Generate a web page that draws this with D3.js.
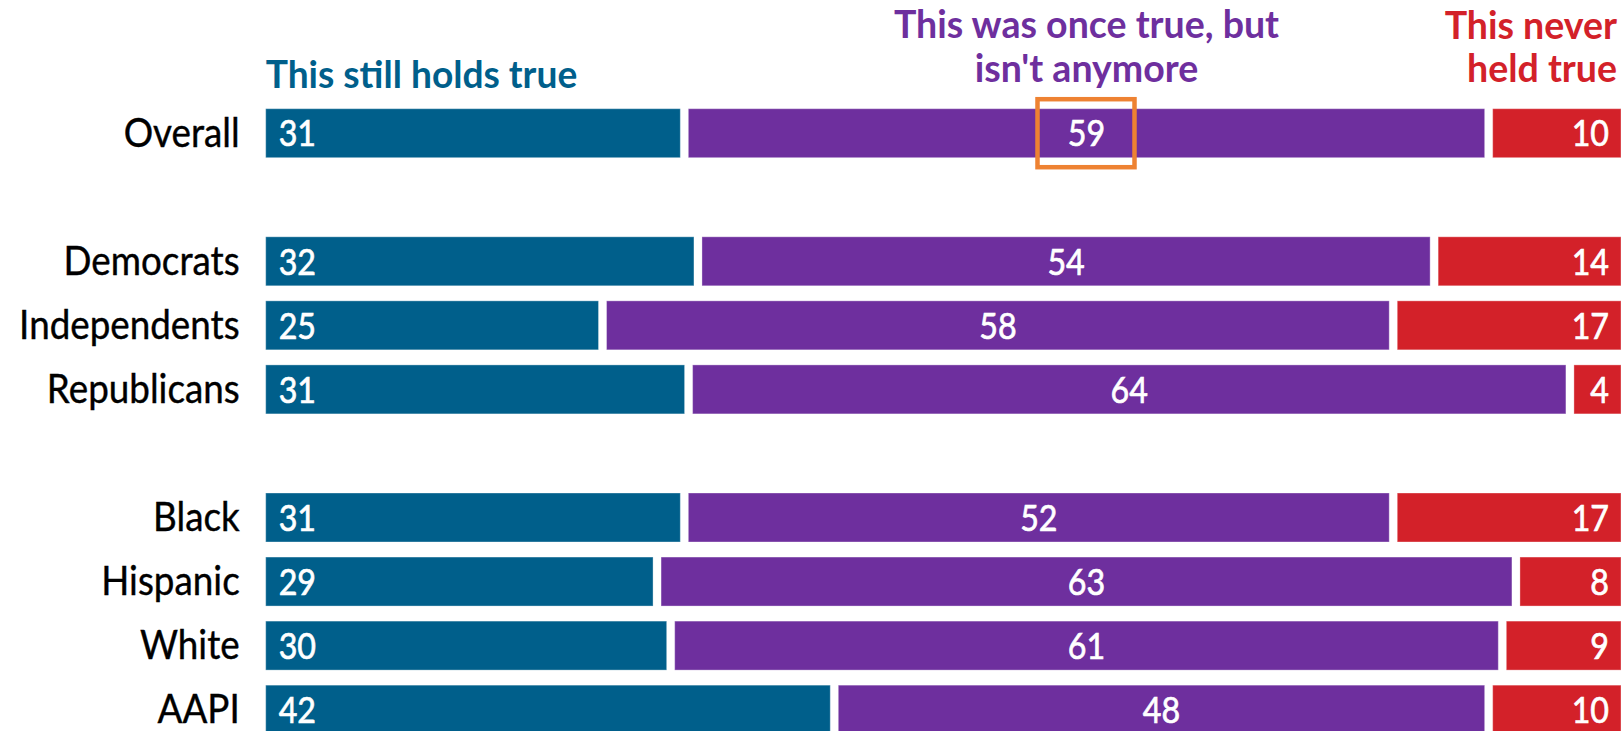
<!DOCTYPE html>
<html>
<head>
<meta charset="utf-8">
<script src="https://cdn.jsdelivr.net/npm/d3@7"></script>
<style>
  html, body { margin: 0; padding: 0; background: #ffffff; }
  svg { display: block; }
  text { font-family: Lato, "Open Sans", "Liberation Sans", sans-serif; }
</style>
</head>
<body>
<svg id="chart" width="1622" height="731"></svg>
<script>
// ---- Data ----
const categories = ["Overall", "Democrats", "Independents", "Republicans", "Black", "Hispanic", "White", "AAPI"];
const stillHoldsTrue = [31, 32, 25, 31, 31, 29, 30, 42];
const onceTrueNotAnymore = [59, 54, 58, 64, 52, 63, 61, 48];
const neverHeldTrue = [10, 14, 17, 4, 17, 8, 9, 10];
const seriesKeys = ["still", "once", "never"];
const seriesHeaders = [["This still holds true"], ["This was once true, but", "isn't anymore"], ["This never", "held true"]];
const rowOrder = ["Overall", "_gap1", "Democrats", "Independents", "Republicans", "_gap2", "Black", "Hispanic", "White", "AAPI"];
const highlighted = { category: "Overall", series: "once" };

// ---- Styles ----
const colors = { still: "#005f8b", once: "#6e2f9e", never: "#d32129" };
const highlightColor = "#ee8232";
const leftX = 265.7, rightX = 1621;
const gap = 8;

const table = categories.map((c, i) => ({
  category: c, still: stillHoldsTrue[i], once: onceTrueNotAnymore[i], never: neverHeldTrue[i]
}));

const stacked = d3.stack().keys(seriesKeys).offset(d3.stackOffsetExpand)(table);

const svg = d3.select("#chart");

const x = d3.scaleLinear().domain([0, 1]).range([leftX, rightX + gap]);
const step = 64.05, bw = 49, topY = 108.7;
const pInner = (step - bw) / step;
const y = d3.scaleBand().domain(rowOrder)
  .range([topY, topY + step * (rowOrder.length - pInner)])
  .paddingInner(pInner).paddingOuter(0);

function squeeze(sel, sx) {
  sel.attr("transform", function() {
    const t = d3.select(this);
    return `translate(${t.attr("data-x")},${t.attr("data-y")}) scale(${sx},1)`;
  });
}

// Bars
const layers = svg.append("g").selectAll("g").data(stacked).join("g")
  .attr("fill", d => colors[d.key]);

layers.selectAll("rect").data(d => d.map(s => ({ key: d.key, s, cat: s.data.category })))
  .join("rect")
  .attr("x", d => x(d.s[0]))
  .attr("y", d => y(d.cat))
  .attr("width", d => x(d.s[1]) - x(d.s[0]) - gap)
  .attr("height", y.bandwidth())
  .attr("stroke", "#ffffff").attr("stroke-opacity", 0.35).attr("stroke-width", 1);

// Value labels
const capV = 26.5;
const valueLabels = svg.append("g").attr("fill", "#ffffff").attr("font-size", 37)
  .attr("stroke", "#ffffff").attr("stroke-width", 0.7);
stacked.forEach(layer => {
  layer.forEach(s => {
    const cat = s.data.category;
    const v = s.data[layer.key];
    let lx, anchor;
    if (layer.key === "still") { lx = x(s[0]) + 13; anchor = "start"; }
    else if (layer.key === "once") { lx = (x(s[0]) + x(s[1]) - gap) / 2; anchor = "middle"; }
    else { lx = x(s[1]) - gap - 12; anchor = "end"; }
    const ly = y(cat) + y.bandwidth() / 2 + capV / 2;
    valueLabels.append("text")
      .attr("data-x", lx).attr("data-y", ly)
      .attr("text-anchor", anchor)
      .text(v)
      .call(squeeze, 0.87);
    if (cat === highlighted.category && layer.key === highlighted.series) {
      const bx = (x(s[0]) + x(s[1]) - gap) / 2;
      svg.append("rect")
        .attr("x", bx - 49).attr("y", y(cat) + y.bandwidth() / 2 - 34)
        .attr("width", 97).attr("height", 68)
        .attr("fill", "none").attr("stroke", highlightColor).attr("stroke-width", 4.5);
    }
  });
});

// Category labels
svg.append("g").attr("font-size", 40).attr("fill", "#000")
  .attr("stroke", "#000").attr("stroke-width", 0.4)
  .selectAll("text").data(categories).join("text")
  .attr("data-x", leftX - 26).attr("data-y", d => y(d) + y.bandwidth() / 2 + 13.5)
  .attr("text-anchor", "end")
  .text(d => d)
  .call(squeeze, 0.92);

// Series headers
const overall = stacked.map(l => l[0]);
const headerG = svg.append("g").attr("font-size", 37.5).attr("font-weight", 700);
headerG.append("text").attr("fill", colors.still)
  .attr("data-x", x(overall[0][0])).attr("data-y", 87.7)
  .attr("text-anchor", "start").text(seriesHeaders[0][0]).call(squeeze, 0.99);
seriesHeaders[1].forEach((line, i) => {
  headerG.append("text").attr("fill", colors.once)
    .attr("data-x", (x(overall[1][0]) + x(overall[1][1]) - gap) / 2)
    .attr("data-y", 38 + i * 43.7)
    .attr("text-anchor", "middle").text(line).call(squeeze, 1.0);
});
seriesHeaders[2].forEach((line, i) => {
  headerG.append("text").attr("fill", colors.never)
    .attr("data-x", x(overall[2][1]) - gap - 4)
    .attr("data-y", 38.5 + i * 43.2)
    .attr("text-anchor", "end").text(line).call(squeeze, 1.0);
});
</script>
</body>
</html>
